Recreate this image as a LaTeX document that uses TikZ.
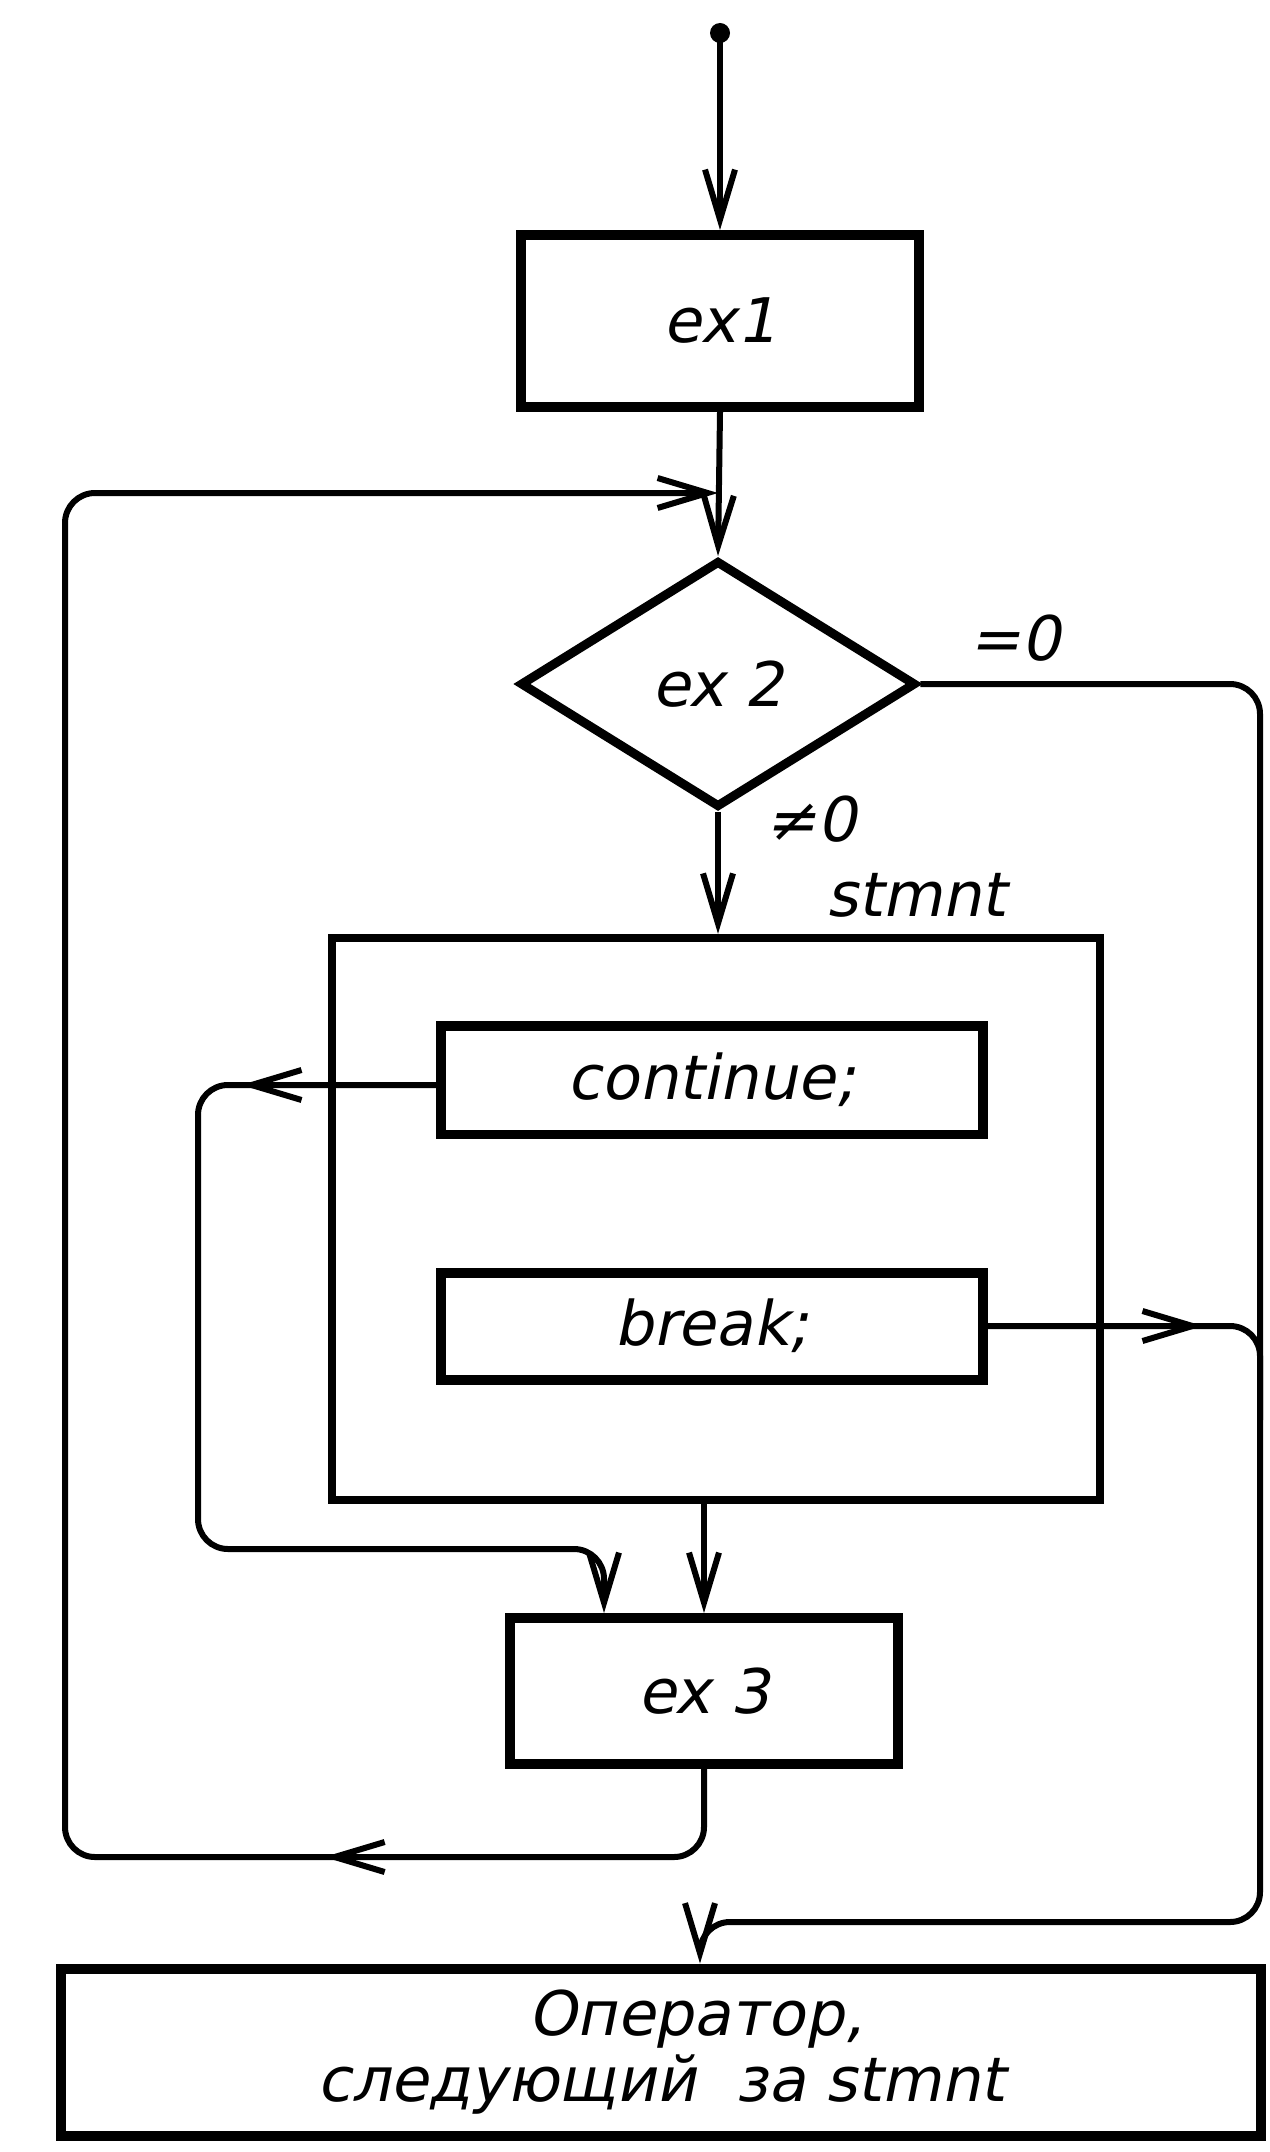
\documentclass[tikz,border=0pt]{standalone}
\usepackage{fontspec}
\setmainfont{DejaVu Sans}[FakeSlant=0.2]
\usetikzlibrary{shapes.geometric,arrows.meta,decorations.markings}
\tikzset{
  txt/.style={font=\fontsize{35}{38}\selectfont},
  box/.style={draw, line width=0.2cm, inner sep=0pt, txt},
  dia/.style={draw, diamond, aspect=1.6, line width=0.18cm, inner sep=0pt, txt},
  conn/.style={line width=0.12cm, rounded corners=0.6cm},
  arr/.style={-{Straight Barb[length=1cm,width=0.6cm]}},
  midarr/.style={postaction={decorate}, decoration={markings,
     mark=at position #1 with {\arrow{Straight Barb[length=1cm,width=0.6cm]}}}},
  lbl/.style={txt, inner sep=0pt}
}
\begin{document}
\begin{tikzpicture}[x=0.02cm, y=-0.02cm]
\useasboundingbox (0,0) rectangle (1269,2152);
% nodes
\node[box, minimum width=7.96cm, minimum height=3.44cm] (ex1) at (720,321) {ex1};
\node[dia, minimum width=7.92cm, minimum height=4.94cm] (ex2) at (718,684) {ex 2};
\node[box, line width=0.17cm, minimum width=15.36cm, minimum height=11.24cm] (stmnt) at (716,1219) {};
\node[box, minimum width=10.84cm, minimum height=2.18cm] (cont) at (712,1080) {continue;};
\node[box, minimum width=10.84cm, minimum height=2.14cm] (brk) at (712,1326) {break;};
\node[box, minimum width=7.76cm, minimum height=2.92cm] (ex3) at (704,1691) {ex 3};
\node[box, minimum width=24.02cm, minimum height=3.34cm, align=center] (op) at (661,2052)
  {\hspace*{1.4cm}Оператор,\\следующий\ \ за stmnt};
% labels
\node[lbl] (eq0) at (1015,638) {=0};
\node[lbl] (ne0) at (811,819) {≠0};
\node[lbl] (stl) at (916,895) {stmnt};
% coordinates
\coordinate (start) at (720,33);
\coordinate (j) at (718,493);
% connectors
\fill (start) circle (0.2cm);
\draw[conn,arr] (start) -- (ex1.north);
\draw[conn,arr] (ex1.south) -- (ex2.north);
\draw[conn,arr] (ex2.south) -- (ex2.south |- stmnt.north);
\draw[conn,arr] (stmnt.south -| ex3.north) -- (ex3.north);
% loop back from ex3
\draw[conn,arr,midarr=9.1cm] (ex3.south) -- (704,1857) -- (65,1857) -- (65,493) -- (j);
% continue
\draw[conn,arr,midarr=3.9cm] (cont.west |- 0,1085) -- (198,1085) -- (198,1549) -- (604,1549) -- ([xshift=-2cm]ex3.north);
% break
\draw[conn,midarr=4.3cm] (brk.east) -- (1260,1326) -- (1260,1420);
% exit on =0
\draw[conn,arr] (ex2.east) -- (1260,684) -- (1260,1922) -- (700,1922) -- ([xshift=0.78cm]op.north);
\end{tikzpicture}
\end{document}
